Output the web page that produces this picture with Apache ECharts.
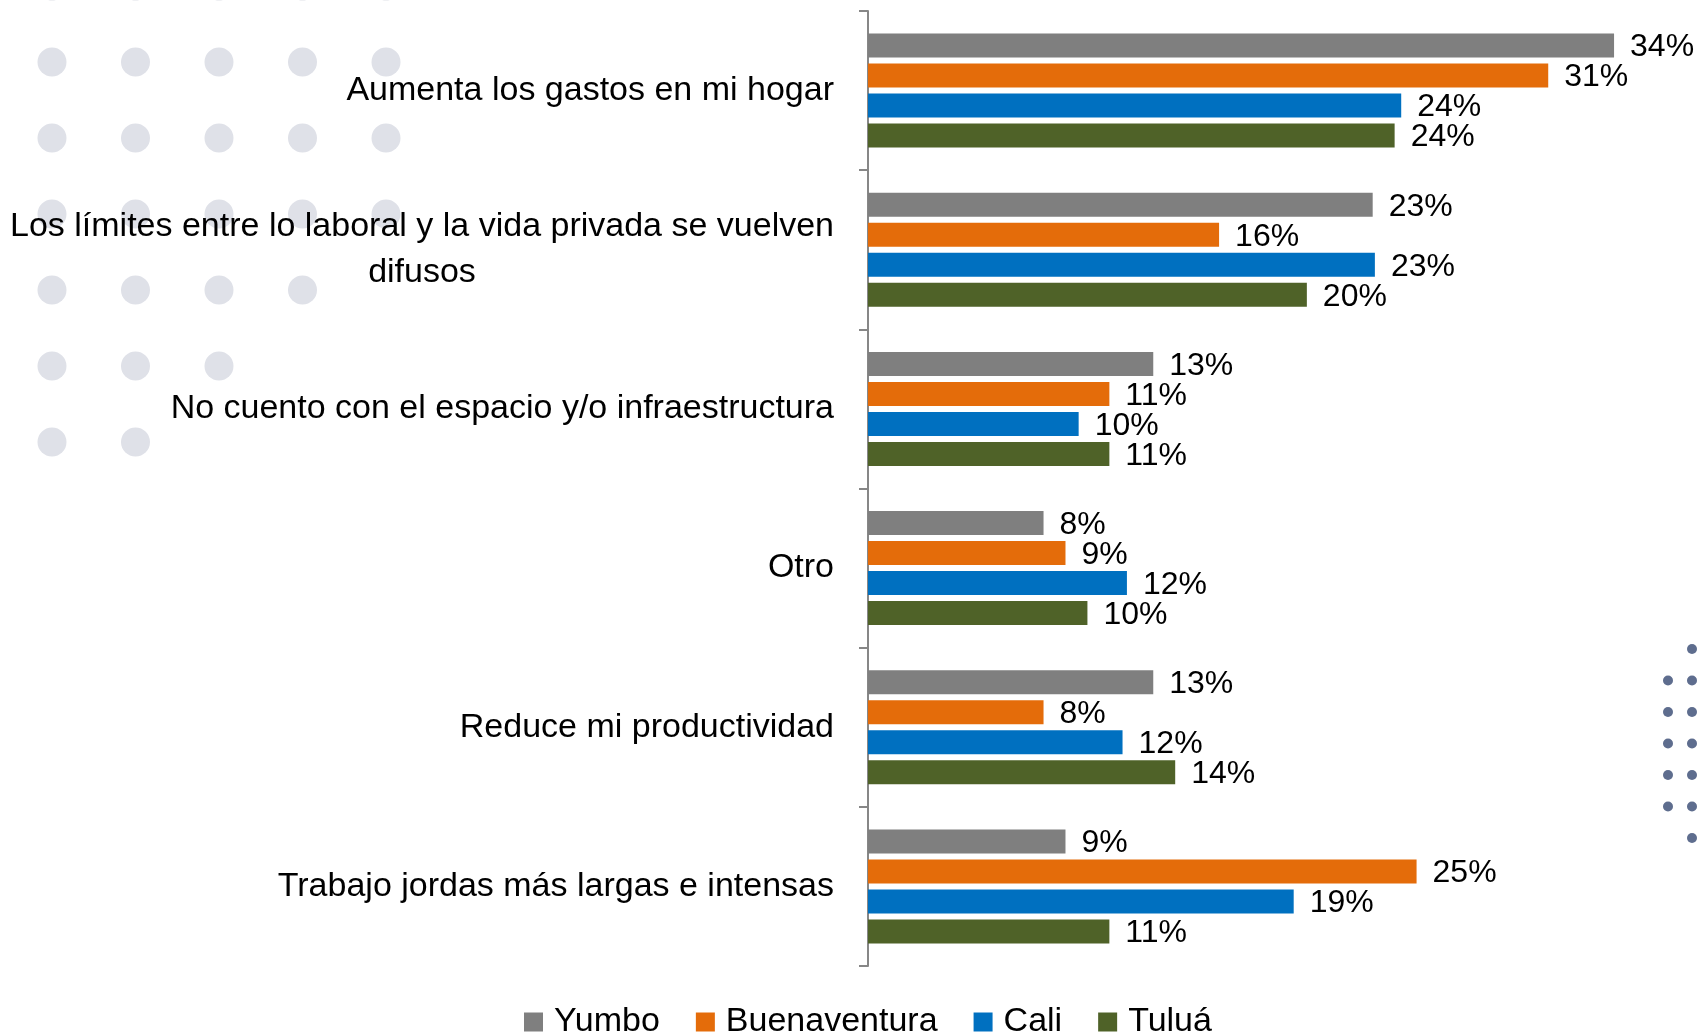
<!DOCTYPE html>
<html>
<head>
<meta charset="utf-8">
<script src="https://cdn.jsdelivr.net/npm/echarts@6/dist/echarts.min.js"></script>
<style>
  html, body { margin: 0; padding: 0; background: #fff; }
  #chart { width: 1702px; height: 1036px; }
</style>
</head>
<body>
<div id="chart"></div>
<script>
// categorias y valores (fraccion)
const categories = [
  'Aumenta los gastos en mi hogar',
  'Los límites entre lo laboral y la vida privada se vuelven difusos',
  'No cuento con el espacio y/o infraestructura',
  'Otro',
  'Reduce mi productividad',
  'Trabajo jordas más largas e intensas'
];
const seriesNames = ['Yumbo', 'Buenaventura', 'Cali', 'Tuluá'];
const yumbo = [0.34, 0.23, 0.13, 0.08, 0.13, 0.09];
const buenaventura = [0.31, 0.16, 0.11, 0.09, 0.08, 0.25];
const cali = [0.243, 0.231, 0.096, 0.118, 0.116, 0.194];
const tulua = [0.24, 0.20, 0.11, 0.10, 0.14, 0.11];

const colors = ['#7f7f7f', '#e46c0a', '#0070c0', '#4f6228'];
const font = '"Liberation Sans", Arial, sans-serif';
const labelSize = 34;

// medir texto para partir la etiqueta larga en dos lineas centradas
const ctx = document.createElement('canvas').getContext('2d');
ctx.font = labelSize + 'px ' + font;
const maxLabelWidth = 840;
let wrapWidth = 0;
function wrap(text) {
  const words = text.split(' ');
  const lines = [];
  let cur = '';
  words.forEach(w => {
    const test = cur ? cur + ' ' + w : w;
    if (ctx.measureText(test).width > maxLabelWidth && cur) {
      lines.push(cur);
      cur = w;
    } else {
      cur = test;
    }
  });
  lines.push(cur);
  return lines;
}
const wrapped = categories.map(c => wrap(c));
wrapped.forEach(lines => {
  if (lines.length > 1) {
    lines.forEach(l => { wrapWidth = Math.max(wrapWidth, ctx.measureText(l).width); });
  }
});

// puntos decorativos
const graphics = [];
const leftRows = [5, 5, 5, 5, 4, 3, 2];
leftRows.forEach((n, r) => {
  for (let i = 0; i < n; i++) {
    graphics.push({
      type: 'circle', silent: true, z: -10,
      shape: { cx: 52 + i * 83.5, cy: -14 + r * 76, r: 14.5 },
      style: { fill: '#dfe1e8' }
    });
  }
});
const rightCols = [{ x: 1668, from: 1, to: 5 }, { x: 1692, from: 0, to: 6 }];
rightCols.forEach(c => {
  for (let j = c.from; j <= c.to; j++) {
    graphics.push({
      type: 'circle', silent: true, z: -10,
      shape: { cx: c.x, cy: 649 + j * 31.5, r: 5 },
      style: { fill: '#5e6d8e' }
    });
  }
});

function makeSeries(name, data, i) {
  return {
    name: name,
    type: 'bar',
    data: data,
    barWidth: 24,
    barGap: '25%',
    itemStyle: { color: colors[i] },
    label: {
      show: true,
      position: 'right',
      distance: 16,
      offset: [0, 2],
      color: '#000',
      fontSize: 32,
      fontFamily: font,
      formatter: p => Math.round(p.value * 100) + '%'
    }
  };
}

const option = {
  animation: false,
  backgroundColor: '#fff',
  graphic: graphics,
  grid: { left: 868, top: 11, right: 66, bottom: 70, containLabel: false },
  xAxis: {
    type: 'value',
    min: 0,
    max: 0.35,
    show: false
  },
  yAxis: {
    type: 'category',
    inverse: true,
    data: categories,
    axisLine: { show: true, lineStyle: { color: '#878787', width: 2 } },
    axisTick: { show: true, length: 9, lineStyle: { color: '#878787', width: 2 } },
    axisLabel: {
      margin: 34,
      color: '#000',
      fontSize: labelSize,
      fontFamily: font,
      lineHeight: 46,
      formatter: (value, idx) => {
        const lines = wrapped[idx];
        if (lines.length === 1) return value;
        return lines.map(l => '{c|' + l + '}').join('\n');
      },
      rich: {
        c: { width: wrapWidth, align: 'center', fontSize: labelSize, fontFamily: font, color: '#000', lineHeight: 46 }
      }
    },
    splitLine: { show: false }
  },
  legend: {
    data: seriesNames,
    left: 519,
    top: 1000,
    icon: 'rect',
    itemWidth: 19,
    itemHeight: 19,
    itemGap: 36,
    textStyle: { color: '#000', fontSize: 34, fontFamily: font, padding: [0, 0, 0, 6] }
  },
  series: [
    makeSeries('Yumbo', yumbo, 0),
    makeSeries('Buenaventura', buenaventura, 1),
    makeSeries('Cali', cali, 2),
    makeSeries('Tuluá', tulua, 3)
  ]
};

const chart = echarts.init(document.getElementById('chart'));
chart.setOption(option);
</script>
</body>
</html>
